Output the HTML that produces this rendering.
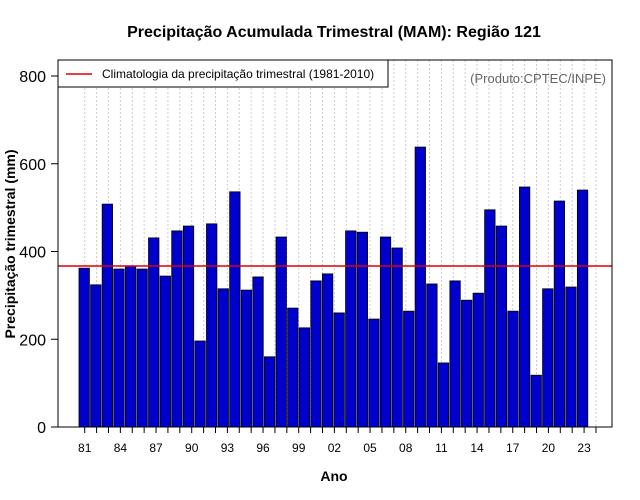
<!DOCTYPE html>
<html><head><meta charset="utf-8"><style>
body{margin:0;background:#fff;}
svg{display:block;font-family:"Liberation Sans",sans-serif;}
</style></head><body>
<svg id="chart" width="640" height="500">
<rect width="640" height="500" fill="#fff"/>
<text x="334" y="37" text-anchor="middle" font-size="16" font-weight="bold">Precipitação Acumulada Trimestral (MAM): Região 121</text>
<text x="334" y="481" text-anchor="middle" font-size="14" font-weight="bold">Ano</text>
<text transform="translate(15,244) rotate(-90)" text-anchor="middle" font-size="14" font-weight="bold">Precipitação trimestral (mm)</text>
<g id="grid"></g><g id="bars"></g><g id="yaxis"></g><g id="xaxis"></g>
<line id="clim" stroke="#e00000" stroke-width="1.5"/>
<rect x="58" y="60" width="554" height="367" fill="none" stroke="#000"/>
<g>
<rect x="58" y="60" width="330" height="27" fill="#fff" stroke="#000"/>
<line x1="66" y1="74" x2="92" y2="74" stroke="#e00000" stroke-width="1.5"/>
<text x="102" y="78" font-size="12">Climatologia da precipitação trimestral (1981-2010)</text>
</g>
<text x="606" y="83" text-anchor="end" font-size="13" fill="#666">(Produto:CPTEC/INPE)</text>
</svg>
<script>
const years=[1981,1982,1983,1984,1985,1986,1987,1988,1989,1990,1991,1992,1993,1994,1995,1996,1997,1998,1999,2000,2001,2002,2003,2004,2005,2006,2007,2008,2009,2010,2011,2012,2013,2014,2015,2016,2017,2018,2019,2020,2021,2022,2023,2024];
const precip=[362,324,508,360,367,360,431,344,447,458,196,463,315,536,312,342,160,433,271,226,333,349,260,447,444,246,433,408,264,638,326,146,333,289,305,495,458,264,547,118,315,515,319,540];
const climatology=367;
const yTicks=[0,200,400,600,800];
const ns="http://www.w3.org/2000/svg";
function XB(i){return 79+i*11.59;}
function XT(i){return 84.7+i*11.89;}
function Y(v){return 427-v*0.43875;}
const grid=document.getElementById('grid'),bars=document.getElementById('bars'),ya=document.getElementById('yaxis'),xa=document.getElementById('xaxis');
years.forEach((yr,i)=>{
 const g=document.createElementNS(ns,'line');
 g.setAttribute('x1',XT(i));g.setAttribute('x2',XT(i));g.setAttribute('y1',60);g.setAttribute('y2',427);
 g.setAttribute('stroke','#ccc');g.setAttribute('stroke-dasharray','2,2');
 
 
 grid.appendChild(g);
 const r=document.createElementNS(ns,'rect');
 r.setAttribute('x',XB(i));r.setAttribute('width',10.4);r.setAttribute('y',Y(precip[i]));r.setAttribute('height',427-Y(precip[i]));
 r.setAttribute('fill','#0000cd');r.setAttribute('stroke','#000');r.setAttribute('stroke-width','0.8');
 
 
 bars.appendChild(r);
 const tk=document.createElementNS(ns,'line');
 tk.setAttribute('x1',XT(i));tk.setAttribute('x2',XT(i));tk.setAttribute('y1',427);tk.setAttribute('y2',433);tk.setAttribute('stroke','#000');
 
 
 xa.appendChild(tk);
 if(i%3===0){
  const t=document.createElementNS(ns,'text');
  t.setAttribute('x',XT(i));t.setAttribute('y',452);t.setAttribute('text-anchor','middle');t.setAttribute('font-size','12');
  t.textContent=String(yr).slice(2);
  
  
  xa.appendChild(t);
 }
});
yTicks.forEach(v=>{
 const l=document.createElementNS(ns,'line');
 l.setAttribute('x1',51);l.setAttribute('x2',58);l.setAttribute('y1',Y(v));l.setAttribute('y2',Y(v));l.setAttribute('stroke','#000');
 
 
 ya.appendChild(l);
 const t=document.createElementNS(ns,'text');
 t.setAttribute('x',46);t.setAttribute('y',Y(v)+6);t.setAttribute('text-anchor','end');t.setAttribute('font-size','16');
 t.textContent=v;
 
 
 ya.appendChild(t);
});
const c=document.getElementById('clim');
c.setAttribute('x1',58);c.setAttribute('x2',612);c.setAttribute('y1',Y(climatology));c.setAttribute('y2',Y(climatology));
</script>
</body></html>
